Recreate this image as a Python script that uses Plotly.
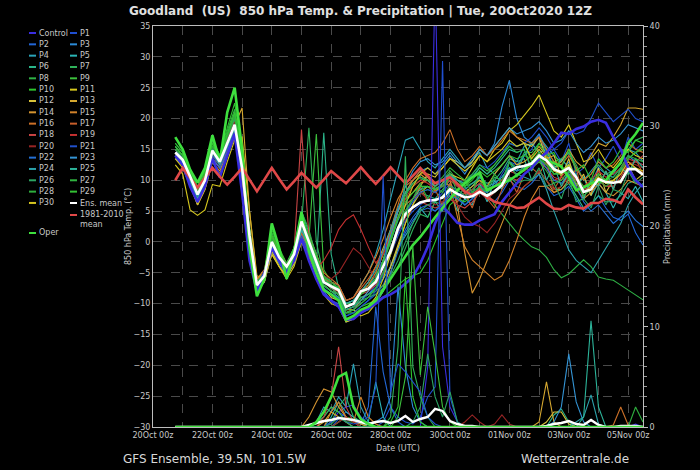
import plotly.graph_objects as go
import pandas as pd

# ---------------- time axis (6-hourly steps of the 20Oct2020 12Z run) ----------------
times = pd.date_range("2020-10-20 18:00", periods=64, freq="6h")
tick_dates = pd.date_range("2020-10-20 00:00", "2020-11-05 00:00", freq="1D")
tick_labels = ["20Oct 00z", "", "22Oct 00z", "", "24Oct 00z", "", "26Oct 00z", "", "28Oct 00z", "",
               "30Oct 00z", "", "01Nov 00z", "", "03Nov 00z", "", "05Nov 00z"]

# ---------------- 850 hPa temperature (°C) ----------------
control_t = [14, 12.5, 9, 6.5, 9, 13.5, 10.5, 14, 17.5, 8, -3, -8, -5, -1, -3, -5,
             -3, 0.5, -3, -6, -8.5, -9.5, -10.5, -12.6, -12.5, -11.5, -10.8, -10, -9, -8.5, -7.8, -6.8,
             -5.7, -3.5, -0.8, 3, 5.7, 4.5, 3.1, 2.8, 2.8, 3.5, 4, 4.5, 6.5, 8, 9.5, 11,
             12, 13.5, 14.5, 16, 17.7, 17.5, 18.3, 18.7, 19.5, 19.8, 19.3, 17, 15, 12, 10, 8.9]
p01_t = [14, 12.8, 10, 7, 9.5, 14, 12.5, 15.5, 18.5, 10.5, -0.5, -7.5, -6, -0.5, -3, -4.5,
         -2.5, 2.5, -1, -4, -7.5, -8.5, -9, -11.5, -11, -9.5, -8.5, -7, -5, -2, 1, 3.5,
         5, 6, 7, 6.5, 8, 9.5, 8, 7.5, 8.5, 9.5, 8, 9, 11, 13, 12.5, 14,
         15, 17.5, 14, 15, 13, 16, 11, 12, 14.5, 12, 13.5, 15.5, 13, 17, 15, 16]
p02_t = [13.5, 12.5, 9.5, 6, 9, 13.5, 12, 14.5, 17.5, 9.5, -1.5, -8, -6.5, -1.5, -3.5, -5,
         -3, 1.5, -1.5, -4.5, -8, -9.5, -10, -12, -11.5, -10.5, -9.5, -8.5, -7, -4, -1, 2,
         4, 5.5, 6, 5, 6.5, 8, 7.5, 6, 7, 8.5, 7, 6.5, 8, 10, 9, 8.5,
         9.5, 11, 9, 7.5, 8, 9, 7, 5, 6, 7.5, 5.5, 4, 3.5, 4.5, 1.5, -0.5]
p03_t = [14.5, 13, 10.5, 7.5, 10, 14.5, 13, 15.5, 18, 11, 0.5, -7, -5.5, 0, -2, -4,
         -1.5, 4, 1, -2.5, -6, -7, -8, -10, -9.5, -8, -7, -6, -3, 1, 5, 8,
         10, 11.5, 12, 11, 12.5, 14, 12.5, 11, 13, 15, 14, 16, 21.9, 26.2, 20, 17,
         16, 17.5, 15, 12, 11, 13, 10.5, 8, 9.5, 12, 11, 10.5, 12, 14, 13, 12.5]
p04_t = [15, 13.5, 11, 8, 10.5, 15, 13.5, 16.5, 19.5, 12.5, 1.5, -6.5, -5, 0.5, -2, -3.5,
         -1, 5, 1.5, -2, -5.5, -6.5, -7, -9.5, -9, -7, -5, -2, 2, 7, 12, 16.5,
         17, 15, 13, 12, 13.5, 15, 13.5, 12, 13, 14.5, 12, 11, 12.5, 14, 13, 15.5,
         16, 17, 15.5, 14, 13, 14.5, 12, 10, 11.5, 13, 12, 11, 13, 15, 14.5, 13]
p05_t = [14, 13, 10, 6.5, 9.5, 14, 12.5, 15, 18, 11, 0, -7.5, -6, -1, -3, -4.5,
         -2.5, 2, -0.5, -3.5, -7, -8, -8.5, -11, -10.5, -9, -8.5, -7.5, -6, -4, -1, 1,
         3, 5.5, 4, 6.5, 5, 8.5, 5, 7, 6, 9.5, 6.5, 10, 8.5, 13, 11.5, 14,
         16, 14.5, 15, 11.5, 13.5, 12, 9, 10.5, 7.5, 9.5, 8, 5.5, 8, 7, 9, 6.5]
p06_t = [15, 13.5, 10.5, 7.5, 10, 15, 13, 16.5, 19.5, 12, 1, -7, -5.5, 0, -2.5, -4,
         -2, 2.5, -0.5, -4, 17.7, -2, -7.5, -10, -9.5, -8, -7, -5.5, -3, 0, 3.5, 6,
         7, 8, 7.5, 7, 8.5, 10, 9, 8, 9, 10.5, 9.5, 10, 11.5, 13.5, 13, 13.5,
         10, 11.5, 10, 8.5, 8.5, 9.5, 7.5, 5.5, 6, 7.5, 6.5, 6.5, 7.5, 9.5, 10, 9]
p07_t = [15.5, 14, 11, 8, 10.5, 15.5, 13.5, 17, 20.5, 13, 1.5, -7, -5, 1, -2, -4,
         -1.5, 3, 18.5, 0, -5.5, -7, -8, -11, -10.5, -9, -8.5, -8, -7, -6, -4, -1,
         2, 4.5, 4, 6.5, 6, 9.5, 7, 9, 7.5, 11, 8, 10.5, 10, 13, 12, 14.5,
         14.5, 16, 15, 13, 13.5, 14.5, 12.5, 10, 11, 12.5, 11, 11.5, 13, 15, 16.5, 17]
p08_t = [14.5, 13.5, 10.5, 7.5, 10, 15, 13, 16.5, 20, 12.5, 1, -7, -5.5, 0.5, -2.5, -4,
         -2, 5, 2, -2.5, -6, -7, -7.5, -10, -9.5, -8, -7, -5, -2, 1.5, 5, 8,
         9, 10, 10.5, 9, 10, 11.5, 10, 9, 9.5, 10, 8, 6, 4.5, 3, 1.5, 0.3,
         -0.8, -1.3, -2.5, -4.5, -5.8, -5.2, -4, -2.9, -4, -5.7, -6, -6.2, -7, -7.8, -8.6, -9.4]
p09_t = [15, 13.5, 11, 8.5, 11, 16, 13.5, 17.5, 21, 13.5, 2, -6.5, -5, 1.5, -1.5, -3.5,
         -1, 4, 0.5, 17.5, -4.5, -6.5, -7.5, -10, -10, -8.5, -7.5, -6, -4, -1, 2.5, 5,
         6.5, 8, 8.5, 8, 9.5, 11, 10, 9, 10.5, 12, 11, 12.5, 14, 16, 15.5, 16,
         13, 14.5, 13, 11, 11.5, 12.5, 10.5, 8, 9, 11, 9.5, 10, 11.5, 13.5, 14.5, 15]
p10_t = [16, 14.5, 11.5, 9, 11.5, 16.5, 14, 18.5, 22.5, 14.5, 2.5, -7, -5, 2, -1, -3.5,
         -1, 4.5, 1, -2, -5.5, -7.5, -8.5, -11.5, -11.5, -10.5, -10, -9.5, -9, -8, -7, -6,
         -5.5, -5, -3, 0, 3, 6, 7, 6.5, 7.5, 9, 8, 9, 10, 12, 11.5, 12,
         13, 14, 12.5, 11, 11, 12.5, 10.5, 8, 8.5, 10.5, 9.5, 9.5, 10, 12, 12, 11]
p11_t = [12.5, 11, 5.2, 4.3, 5.2, 9.3, 9, 13, 16.5, 17, 5, -5.5, -6, -2, -4, -6,
         -4, 0, -2, -5, -7, -8, -8.5, -11, -11, -12, -11.5, -10, -8, -5, -1, 3,
         6, 8, 9, 8, 9.5, 11, 10.5, 10, 12, 14, 13, 15, 16, 18, 19, 20.5,
         22, 23.8, 21, 18, 17, 19, 16, 13, 13.5, 15, 13, 12, 13.5, 15, 14, 13.5]
p12_t = [14, 12.5, 9.5, 6.5, 9, 13.5, 12, 15, 18, 10, -0.5, -7.5, -6.5, -2, -4, -5.5,
         -3.5, 1, -1.5, -4, -7.5, -9, -9.5, -12.5, -12, -11, -10.5, -9.5, -7.5, -4, -0.5, 3,
         6, 9, 11, 10.5, 12, 13.5, 13, 12, 13, 15, 14, 15.5, 17, 18.5, 17, 16,
         15.5, 17, 13.5, 14, 10.5, 13.5, 9, 11, 7.5, 12, 8, 10, 9.5, 12.5, 10, 11]
p13_t = [14.5, 13, 10.5, 8, 10.5, 14.5, 13.5, 16, 19, 21.7, 5, -6, -5, 0.5, -2, -4,
         -2, 2, 0, -3, -6, -7, -8, -10.5, -10, -8, -6.5, -4, -1, 2, 5, 7,
         8, 9.5, 10, 9, 10, 11, 9.5, 8, 9, 10, 9, 11, 12.5, 14, 12.5, 13,
         14, 15.5, 14, 12, 13, 15, 13, 12, 14, 16, 15.5, 17, 19, 21.7, 21.7, 21.5]
p14_t = [14, 12.5, 9.5, 6, 8.5, 13, 11.5, 14.5, 17.5, 10, 0, -6, -5.5, -1, -3, -5,
         -3, 1, -1, -4, -6.5, -7.5, -8.5, -11.5, -11, -9.5, -8, -6, -3, 1, 5, 8,
         10, 11, 10, 8.5, 9, 10, 6, -1.8, -8.3, -6, -3, 0, 3, 6, 7.5, 9,
         10, 11.5, 10, 8, 8.5, 10, 8.5, 7, 8, 9.5, 8, 7.5, 8.5, 10, 9.5, 9]
p15_t = [15, 13.5, 11, 8.5, 11, 15.5, 14, 17, 20, 13, 2, -6, -4.5, 1, -1.5, -3.5,
         -1.5, 3.5, 1, -2, -5, -6, -7, -9.5, -9, -7, -5, -2.5, 0.5, 4, 7, 9,
         10, 11.5, 10.5, 9, 10, 9, 4, -0.8, -2.9, -4, -5, -6.2, -5.5, -3, 0.3, 4,
         7, 9, 9, 8, 9, 11, 9.5, 8, 9, 11, 10, 10, 11, 13, 12, 11.5]
p16_t = [14, 13, 10, 7, 9.5, 14, 12.5, 15.5, 18.5, 11.5, 0.5, -7.5, -6, -1, -3, -5,
         -3, 1.5, -1, -3.5, -6.5, -7.5, -8, -10.5, -10, -8.5, -7, -5, -2, 2, 6, 10,
         12, 13.5, 14, 14.5, 16, 18.2, 15, 13, 14, 15.5, 14, 15, 16.5, 18, 17, 16.5,
         16, 17, 15, 13, 12.5, 14, 12, 10, 11, 13, 12, 12.5, 14, 16, 15, 14.5]
p17_t = [14.5, 13, 10, 7, 10, 14.5, 12.5, 16, 19, 11.5, 0, -7, -5.5, 0, -2.5, -4,
         -2, 3, 0, -3, -6, -6.5, -7, -9.5, -9, -7.5, -6, -4, -1.5, 1.5, 4, 6,
         7, 9, 6.5, 8.5, 6, 9.5, 6.5, 8, 5.5, 9, 7, 5.5, 8.5, 10.5, 8, 11,
         12, 11, 13, 8.5, 10.5, 9.5, 12, 7, 10, 9, 11.5, 8.5, 12, 11, 13.5, 11]
p18_t = [14.5, 13.5, 10.5, 7.5, 10, 15, 13, 16, 19, 12, 1, -6.5, -5, 0.5, -2, -4,
         -1.5, 18.2, 1, -3, -6.5, -7.5, -8, -10.5, -10, -8.5, -8, -7, -5, -2, 1.5, 4,
         5.5, 6.5, 6, 5.5, 6, 7, 6, 5.5, 6.5, 8, 7, 8, 9, 10.5, 10, 11,
         12, 13, 12, 10.5, 10, 11.5, 10, 8.5, 9, 10, 9, 9, 10.5, 12.5, 13, 14]
p19_t = [14, 12.5, 9.5, 6.5, 9, 13.5, 12, 15, 18, 10.5, 0, -7, -6, -1, -3.5, -5,
         -3, 0.5, -2, -4.5, -3, -1, 2, 3.6, 4.4, 2, -0.8, -3.4, -2, 1, 4, 7,
         9, 10, 9.5, 8.5, 9, 10, 9, 8, 8.5, 9.5, 8.5, 9, 10, 11.5, 11, 11.5,
         12.5, 13.5, 12, 10, 10.5, 12, 10.5, 9, 10, 11.5, 10.5, 11, 12, 13.5, 13, 12.5]
p20_t = [15, 13.5, 10.5, 7.5, 10.5, 15, 13, 16.5, 19.5, 12, 1, -6.5, -5, 0, -2.5, -4,
         -2, 2.5, 0, -3, -5.5, -6, -5, -3, -1, -2, -4, -6, -5, -2, 2, 5,
         7, 8, 7, 6, 6.5, 7.5, 6, 4, 3, 2.5, 1.5, 3, 5, 7, 8, 9,
         10, 11.5, 10, 8.5, 9, 10.5, 9, 7.5, 8.5, 10, 9, 9.5, 11, 13, 12.5, 12]
p21_t = [14, 13, 10, 7, 9.5, 14, 12.5, 15, 18, 10.5, 0, -7.5, -6, -1, -3, -5,
         -3, 1, -1.5, -4.5, -7.5, -8.5, -9, -12, -11.5, -10.5, -9.5, -8, -5.5, -2, 1.5, 4.5,
         6.5, 8, 8.5, 8, 9, 10.5, 10, 9.5, 11, 12.5, 12, 13, 14.5, 16, 15.5, 16,
         17, 18.5, 17, 15, 16, 18, 17.5, 18, 20, 22.5, 21, 19.5, 20.5, 21.5, 20, 19.5]
p22_t = [13.5, 12.5, 9.5, 6.5, 9, 13.5, 12, 14.5, 17.5, 9.5, -1, -8, -6.5, -1.5, -3.5, -5.5,
         -3.5, 0.5, -2, -5, -8, -9.5, -10.5, -13, -12.5, -11.5, -11, -10, -8, -5, -1.5, 1.5,
         3.5, 5, 5.5, 5, 6, 7.5, 7, 6, 7, 8.5, 8, 9.5, 10.5, 12, 11.5, 12,
         12.5, 13.5, 12, 10, 9.5, 11, 9, 6.5, 5, 6, 4.5, 3, 4, 5, 3.5, 2.5]
p23_t = [14.5, 13, 10, 7, 10, 14.5, 13, 15.5, 18.5, 11, 0.5, -7, -6, -0.5, -2.5, -4.5,
         -2.5, 2, -0.5, -3.5, -7, -8, -8.5, -11, -10.5, -9.5, -8, -6, -3, 1, 5, 9,
         11.5, 13, 13.5, 12.5, 13, 14.5, 13, 12, 13.5, 15, 14, 15.5, 17, 18.5, 17.5, 18,
         18.5, 19.5, 18, 16, 16.5, 18, 16, 14.5, 15.5, 17, 16, 16.5, 17.5, 19, 18.5, 18]
p24_t = [15, 13.5, 10.5, 7.5, 10, 15, 13, 16, 19, 12.5, 1.5, -6.5, -5, 0.5, -2, -4,
         -1.5, 3.5, 0.5, -2.5, -6, -7, -7.5, -10, -9.5, -8, -6.5, -4.5, -1.5, 2, 5.5, 8,
         9.5, 10.5, 10, 9, 10, 11, 9.5, 8.5, 9.5, 10.5, 9, 9.5, 10.5, 12, 11, 10.5,
         10, 11, 8.5, 5, 2, -1.3, -3, -4, -5, -3, -1, 1, 3, 6, 8, 9.5]
p25_t = [14, 13, 10, 7, 9.5, 14.5, 12.5, 15.5, 18.5, 11, 0, -7.5, -6, -0.5, -3, -4.5,
         -2.5, 2, -1, -4, -7, -8, -9, -11.5, -11, -10, -9, -7.5, -5, -2, 2, 5,
         7, 8.5, 9, 8.5, 9.5, 11, 10, 9.5, 10.5, 12, 11, 12, 13.5, 15, 14.5, 15,
         11.5, 14, 10, 12.5, 9, 11.5, 11, 7, 10, 9, 11.5, 8.5, 12, 11, 13.5, 12]
p26_t = [15.5, 14, 11, 8, 10.5, 15.5, 13.5, 17, 20, 12.5, 1, -7, -5.5, 0.5, -2, -4,
         -2, 2.5, 0, -3, -6.5, -7.5, -8.5, -11, -10.5, -9.5, -9, -8.5, -7.5, -5.5, -3, 0,
         3, 5, 6, 6.5, 7.5, 9, 8.5, 7.5, 8, 9, 7.5, 8, 9, 10.5, 9.5, 10,
         10, 12, 9, 9.5, 7, 10.5, 6.5, 7, 5.5, 9, 6, 8.5, 8, 11.5, 9.5, 10.5]
p27_t = [16, 14.5, 11.5, 9, 11.5, 16.5, 14, 18, 21.5, 13.5, 2, -6.5, -5, 1.5, -1.5, -3.5,
         -1, 4, 1, -2, -5.5, -6.5, -7.5, -10.5, -10, -8.5, -7.5, -6, -3.5, 0, 4, 7.5,
         9.5, 10.5, 10, 9.5, 10.5, 12, 11, 10, 11, 12.5, 11.5, 12.5, 14, 15.5, 14.5, 15,
         12, 13, 11.5, 9.5, 10, 11.5, 9.5, 7.5, 8.5, 10, 9, 10, 11.5, 13.5, 14.5, 15.5]
p28_t = [15, 14, 11, 8, 10.5, 15.5, 13.5, 17, 20.5, 12.5, 1, -7.5, -5.5, 0.5, -2.5, -4.5,
         -2, 3, 0, -3.5, -7, -8, -8.5, -11.5, -11, -10, -9, -7.5, -5, -1.5, 2, 5,
         7, 9.5, 7, 9, 8, 11, 8, 10, 8, 11.5, 8.5, 11, 9.5, 13, 10.5, 12.5,
         12.5, 13.5, 12.5, 11, 11, 12, 10.5, 9, 9.5, 11, 10, 10.5, 12, 14, 13.5, 13]
p29_t = [15.5, 14, 11, 8.5, 11, 16, 13.5, 17.5, 21, 13, 1.5, -7, -5, 1, -2, -4,
         -1.5, 3.5, 0.5, -2.5, -6, -7, -7.5, -10.5, -10, -8.5, -7.5, -6, -3, 0.5, 4, 6.5,
         8, 9, 9, 8.5, 9, 10.5, 9.5, 9, 10, 11.5, 10.5, 11.5, 12.5, 14, 13.5, 14,
         13.5, 16, 14, 14.5, 12, 15, 11.5, 12.5, 10, 13.5, 12, 13, 15, 14.5, 16.5, 16]
p30_t = [13.5, 12, 9, 6, 8.5, 13, 11, 14, 17, 9.5, -1, -7.5, -6.5, -1.5, -4, -5.5,
         -3.5, 0, -2.5, -5.5, -8.5, -10, -10.5, -13, -12.5, -11.5, -10.5, -9, -6, -2, 2, 6,
         9, 11, 12, 11, 12, 13.5, 12.5, 11.5, 12.5, 14, 13, 14, 15, 16.5, 15.5, 16,
         13.5, 15, 13.5, 11.5, 11, 12.5, 10.5, 8, 9, 10.5, 9.5, 10, 11, 13, 12, 11.5]
oper_t = [17, 15, 11.7, 9.6, 12, 17.3, 13, 21, 25, 15, -1, -8.8, -6, 3, -1, -6,
          -1.5, 4.8, -1.5, -5, -7.8, -8.5, -9.5, -12.6, -12, -11, -10.5, -9.5, -7.8, -6, -4, -2.4,
          -0.5, 0.8, 2.5, 4, 5.5, 7, 8.4, 9.5, 10.5, 11.2, 8.4, 9, 9.5, 10, 10.8, 11.7,
          12.8, 13.8, 13.3, 12.8, 12.2, 10.5, 8.4, 8.8, 9.5, 9.8, 10, 11.5, 12.8, 16, 17.5, 19.3]
ens_mean_t = [14.5, 13.3, 10.6, 7.7, 10, 14.8, 13, 16, 19, 12, 1, -7, -5.5, 0, -2.5, -4,
              -2, 3.3, 0, -3, -6.5, -7.2, -7.8, -10.5, -10, -8, -7.6, -6.5, -4, -1.5, 2.2, 4.5,
              5.6, 6.4, 6.7, 6.8, 7.2, 8.5, 7.8, 7.2, 7.4, 8.1, 7.5, 8.2, 9.2, 11.5, 12.1, 12.3,
              12.7, 14, 13.2, 11.8, 11.3, 12, 10.5, 8.1, 8.5, 10.2, 9.7, 9.6, 9.8, 11.8, 11.8, 10.9]
clim_t = [10, 12, 10.4, 8.8, 10.4, 12, 10.6, 9.3, 10.6, 12, 10.1, 8.2, 10.1, 12, 10.2, 8.5,
          9.8, 11.2, 10, 8.8, 10.1, 11.5, 10.5, 9.5, 10.8, 12.1, 10.7, 9.4, 10.7, 12.1, 10.8, 9.5,
          10.7, 12, 10.7, 9.5, 10, 10.5, 9.4, 8.2, 7.6, 8.5, 7.3, 6.5, 6.2, 6, 5.5, 5.6,
          6.4, 7.2, 6.2, 5.4, 5.3, 6, 5.6, 5.4, 6.3, 6.3, 7, 6.8, 6.3, 8.5, 7.2, 6.1]

# ---------------- precipitation (mm per 6 h) ----------------
control_p = [0, 0, 0, 0, 0, 0, 0, 0, 0, 0, 0, 0, 0, 0, 0, 0,
             0, 0, 0, 0, 0, 0.5, 1.5, 2, 2.2, 1, 0.3, 0, 0, 0, 0, 0,
             0, 0, 6, 45, 8, 2, 0.5, 0, 0, 0, 0, 0, 0, 0, 0, 0,
             0, 0, 0, 0, 0, 0, 0, 0, 0, 0, 0, 0, 0, 0, 0.3, 0]
p01_p = [0, 0, 0, 0, 0, 0, 0, 0, 0, 0, 0, 0, 0, 0, 0, 0,
         0, 0, 0, 0, 0, 0, 0.8, 1.5, 1, 0.5, 0, 0, 0.5, 2, 1, 0.5,
         0.3, 1, 3, 4, 36.5, 3, 0.5, 0, 0, 0, 0, 0, 0, 0, 0, 0,
         0, 0, 0, 0, 0, 0, 0, 0, 0, 0, 0, 0, 0, 0, 0, 0]
p02_p = [0, 0, 0, 0, 0, 0, 0, 0, 0, 0, 0, 0, 0, 0, 0, 0,
         0, 0, 0, 0.5, 1, 2, 1.5, 1, 0.5, 0.3, 2, 12, 5.5, 2, 0.5, 0,
         0, 0, 0, 0, 0, 0, 0, 0, 0, 0, 0, 0, 0, 0, 0, 0,
         0, 0, 0, 0, 0, 0, 0, 0, 0, 0, 0, 0, 0, 0, 0, 0]
p03_p = [0, 0, 0, 0, 0, 0, 0, 0, 0, 0, 0, 0, 0, 0, 0, 0,
         0, 0, 0, 0, 0, 0, 0.5, 1, 0.5, 0, 0, 0.5, 1, 3, 14, 6,
         2, 0.5, 0, 0, 0, 0, 0, 0, 0, 0, 0, 0, 0, 0, 0, 0,
         0, 0, 0, 0, 0, 0, 0, 0, 0, 0, 0, 0, 0, 0, 0, 0]
p04_p = [0, 0, 0, 0, 0, 0, 0, 0, 0, 0, 0, 0, 0, 0, 0, 0,
         0, 0, 0, 0.5, 2, 1.5, 3, 2, 6.3, 2, 0.5, 0, 0, 0, 0, 0,
         0, 0, 0, 0, 0, 0, 0, 0, 0, 0, 0, 0, 0, 0, 0, 0,
         0, 0, 0, 0, 0, 0, 0, 0, 0, 0, 0, 0, 0, 0, 0, 0]
p05_p = [0, 0, 0, 0, 0, 0, 0, 0, 0, 0, 0, 0, 0, 0, 0, 0,
         0, 0, 0, 0, 0, 1, 2.5, 1.5, 1, 0.5, 0.5, 4.5, 1, 0, 0, 0,
         0, 0, 0, 0, 0, 0, 0, 0, 0, 0, 0, 0, 0, 0, 0, 0,
         0, 0, 0, 0, 0, 0, 0, 0, 0, 0, 0, 0, 0, 0, 0, 0]
p06_p = [0, 0, 0, 0, 0, 0, 0, 0, 0, 0, 0, 0, 0, 0, 0, 0,
         0, 0, 0, 0, 0, 0, 0, 0, 0, 0, 0, 0, 0, 0, 0, 0,
         0, 0, 0, 0, 0, 0, 0, 0, 0, 0, 0, 0, 0, 0, 0, 0,
         0, 0, 0, 1.2, 1.8, 0.5, 0, 0, 0, 0, 0, 0, 0, 0, 0, 0]
p07_p = [0, 0, 0, 0, 0, 0, 0, 0, 0, 0, 0, 0, 0, 0, 0, 0,
         0, 0, 0, 0, 0, 0.5, 2, 3, 1, 0.5, 0, 0, 0, 1, 8, 27,
         6, 3, 1, 0, 0, 0, 0, 0, 0, 0, 0, 0, 0, 0, 0, 0,
         0, 0, 0, 0, 0, 0, 0, 0, 0, 0, 0, 0, 0, 0, 0, 0]
p09_p = [0, 0, 0, 0, 0, 0, 0, 0, 0, 0, 0, 0, 0, 0, 0, 0,
         0, 0, 0, 0.3, 1, 2, 1.5, 0.5, 0.5, 0, 0, 0, 0, 0, 1, 5,
         18, 5.2, 12, 7.3, 2, 0.5, 0, 0, 0, 0, 0, 0, 0, 0, 0, 0,
         0, 0, 0, 0, 0, 0, 0, 0, 0, 0, 0, 0, 0, 0, 0, 0]
p10_p = [0, 0, 0, 0, 0, 0, 0, 0, 0, 0, 0, 0, 0, 0, 0, 0,
         0, 0, 0, 0, 0, 0, 0.5, 1, 0.8, 0.3, 0, 0, 0, 0.5, 2, 15,
         3, 0.5, 0, 0, 0, 0, 0, 0, 0, 0, 0, 0, 0, 0, 0, 0,
         0, 0, 0, 0, 0, 0, 0, 0, 0, 0, 0, 0, 0, 0, 0, 0]
p12_p = [0, 0, 0, 0, 0, 0, 0, 0, 0, 0, 0, 0, 0, 0, 0, 0,
         0, 0, 0, 0, 0, 0, 0, 0, 0, 0, 0, 0, 0, 0, 0, 0,
         0, 0, 0, 0, 0, 0, 0, 0, 0, 0, 0, 0, 0, 0, 0, 0,
         0, 0, 0.5, 1.5, 1.5, 0.3, 0, 0, 0, 0, 0, 0, 0, 0, 0, 0]
p13_p = [0, 0, 0, 0, 0, 0, 0, 0, 0, 0, 0, 0, 0, 0, 0, 0,
         0, 0, 0, 0, 0.5, 1.5, 1, 0.5, 0, 0, 0, 0, 0, 0, 0, 0,
         0, 0, 0, 0, 0, 0, 0, 0, 0, 0, 0, 0, 0, 0, 0, 0,
         0, 0.5, 4.5, 0.5, 0, 0, 0, 0, 0, 0, 0, 0, 0, 0, 0, 0]
p14_p = [0, 0, 0, 0, 0, 0, 0, 0, 0, 0, 0, 0, 0, 0, 0, 0,
         0, 0, 1, 2.5, 3.8, 3.5, 2, 1, 0.5, 0.3, 0, 0, 0, 0, 0, 0,
         0, 0, 0, 0, 0, 0, 0, 0, 0, 0, 0, 0, 0, 0, 0, 0,
         0, 0, 0, 0, 0, 0, 0, 0, 0, 0, 0, 0, 0, 0, 0, 0]
p15_p = [0, 0, 0, 0, 0, 0, 0, 0, 0, 0, 0, 0, 0, 0, 0, 0,
         0, 0, 0, 0, 0, 1.5, 2.5, 1, 0.5, 3, 1, 0.3, 0, 0, 0, 0,
         0, 0, 0, 0, 0, 0, 0, 0, 0, 0, 0, 0, 0, 0, 0, 0,
         0, 0, 0, 0, 0, 0, 0, 0, 0, 0, 0, 0, 0, 0, 0, 0]
p16_p = [0, 0, 0, 0, 0, 0, 0, 0, 0, 0, 0, 0, 0, 0, 0, 0,
         0, 0, 0, 0, 0, 0, 0, 0, 0, 0, 0, 0, 0, 0, 0, 0,
         0, 0, 0, 0, 0, 0, 0, 0, 0, 0, 0, 0, 0, 0, 0, 0,
         0, 0, 0, 0, 0, 0, 0, 0, 0, 0, 0, 0.2, 2, 0.2, 0, 0]
p18_p = [0, 0, 0, 0, 0, 0, 0, 0, 0, 0, 0, 0, 0, 0, 0, 0,
         0, 0, 0, 0, 1, 3, 8, 2, 0.5, 0, 0, 0, 0, 0, 0, 0,
         0, 0, 0, 0, 0, 0, 0, 0, 0, 0, 0, 0, 0, 0, 0, 0,
         0, 0, 0, 0, 0, 0, 0, 0, 0, 0, 0, 0, 0, 0, 0, 0]
p20_p = [0, 0, 0, 0, 0, 0, 0, 0, 0, 0, 0, 0, 0, 0, 0, 0,
         0, 0, 0, 0, 0, 0, 0.5, 1, 0.5, 0, 0, 0, 0, 0, 0, 0,
         0, 0, 0, 0, 0, 0, 0, 0.5, 1.2, 0.5, 0, 0.3, 1.2, 0.3, 0, 0,
         0, 0, 0, 0, 0, 0, 0, 0, 0, 0, 0, 0, 0, 0, 0, 0]
p21_p = [0, 0, 0, 0, 0, 0, 0, 0, 0, 0, 0, 0, 0, 0, 0, 0,
         0, 0, 0, 0, 0, 0.5, 1, 0.5, 0.3, 0.5, 1, 4, 25, 3.5, 6.3, 5.5,
         4.5, 3.5, 1, 0.3, 0, 0, 0, 0, 0, 0, 0, 0, 0, 0, 0, 0,
         0, 0, 0, 0, 0, 0, 0, 0, 0, 0, 0, 0, 0, 0, 0, 0]
p23_p = [0, 0, 0, 0, 0, 0, 0, 0, 0, 0, 0, 0, 0, 0, 0, 0,
         0, 0, 0, 0, 0, 0, 0, 0, 0, 0, 0, 0, 0, 0, 0, 0,
         0, 0, 0, 0, 0, 0, 0, 0, 0, 0, 0, 0, 0, 0, 0, 0,
         0, 0, 0, 0.5, 2, 7.3, 2.5, 0.5, 0, 0, 0, 0, 0, 0, 0, 0]
p24_p = [0, 0, 0, 0, 0, 0, 0, 0, 0, 0, 0, 0, 0, 0, 0, 0,
         0, 0, 0, 0, 0, 0, 0, 0, 0, 0, 0, 0, 0, 0, 0, 0,
         0, 0, 0, 0, 0, 0, 0, 0, 0, 0, 0, 0, 0, 0, 0, 0,
         0, 0, 0, 0, 0, 0, 0.5, 1, 3.2, 0.3, 0, 0, 0, 0, 0, 0]
p25_p = [0, 0, 0, 0, 0, 0, 0, 0, 0, 0, 0, 0, 0, 0, 0, 0,
         0, 0, 0, 0, 0, 0, 0, 0, 0, 0, 0, 0, 0, 0, 0, 0,
         0, 0, 0, 0, 0, 0, 0, 0, 0, 0, 0, 0, 0, 0, 0, 0,
         0, 0, 0, 0, 0, 0, 0, 1, 10.6, 2, 0, 0, 0, 0, 0, 0]
p26_p = [0, 0, 0, 0, 0, 0, 0, 0, 0, 0, 0, 0, 0, 0, 0, 0,
         0, 0, 0, 0, 0, 0.3, 1, 0.5, 0, 0, 0, 0, 0, 0, 0, 0,
         0.5, 2, 7.3, 3, 1, 3.5, 0.5, 0, 0, 0, 0, 0, 0, 0, 0, 0,
         0, 0, 0, 0, 0, 0, 0, 0, 0, 0, 0, 0, 0, 0, 0, 0]
p28_p = [0, 0, 0, 0, 0, 0, 0, 0, 0, 0, 0, 0, 0, 0, 0, 0,
         0, 0, 0, 0, 0, 0, 0, 0, 0, 0, 0, 0, 0, 0, 0, 0,
         0, 0, 0, 0, 0, 0, 0, 0, 0, 0, 0, 0, 0, 0, 0, 0,
         0, 0, 0, 0, 0, 0, 0, 0, 0, 0, 0, 0, 0, 0, 2, 0.5]
oper_p = [0, 0, 0, 0, 0, 0, 0, 0, 0, 0, 0, 0, 0, 0, 0, 0,
          0, 0, 0, 0.5, 1.5, 3, 5, 5.4, 2, 0.8, 0.3, 0, 0, 0, 0, 0,
          0, 0, 0, 0, 0, 0, 0, 0, 0, 0, 0, 0, 0, 0, 0, 0,
          0, 0, 0, 0, 0, 0, 0, 0, 0, 0, 0, 0, 0, 0, 0, 0]
ens_mean_p = [0, 0, 0, 0, 0, 0, 0, 0, 0, 0, 0, 0, 0, 0, 0, 0,
              0, 0, 0.2, 0.4, 0.6, 0.7, 0.9, 0.8, 0.7, 0.5, 0.3, 0.5, 0.6, 0.4, 0.6, 1.1,
              0.5, 0.8, 1.0, 1.8, 1.6, 0.6, 0.3, 0.1, 0.1, 0, 0, 0, 0, 0, 0, 0,
              0, 0, 0.1, 0.3, 0.4, 0.6, 0.3, 0.2, 0.7, 0.2, 0, 0, 0.1, 0.1, 0.1, 0]

# ---------------- styles ----------------
member_names = ["Control"] + ["P%d" % k for k in range(1, 31)]
member_colors = ["#3a2ee0", "#1f4fd0", "#2266d6", "#2b8ad6", "#2aa3b8", "#2ab5b5", "#2bb58a",
                 "#2fb25a", "#2fb045", "#3cc03c", "#2ec42e", "#d6c81e", "#d8c23a", "#d6a830",
                 "#d49430", "#d2822a", "#cc7028", "#c85e2a", "#c84444", "#c43030", "#962424",
                 "#2050cc", "#2470d4", "#3494d4", "#2ca2aa", "#2cb49a", "#2ca462", "#30b440",
                 "#2eae3e", "#34c234", "#d4c420"]
member_temps = [control_t, p01_t, p02_t, p03_t, p04_t, p05_t, p06_t, p07_t, p08_t, p09_t, p10_t,
                p11_t, p12_t, p13_t, p14_t, p15_t, p16_t, p17_t, p18_t, p19_t, p20_t,
                p21_t, p22_t, p23_t, p24_t, p25_t, p26_t, p27_t, p28_t, p29_t, p30_t]
member_precip = {"Control": control_p, "P1": p01_p, "P2": p02_p, "P3": p03_p, "P4": p04_p,
                 "P5": p05_p, "P6": p06_p, "P7": p07_p, "P9": p09_p, "P10": p10_p,
                 "P12": p12_p, "P13": p13_p, "P14": p14_p, "P15": p15_p, "P16": p16_p,
                 "P18": p18_p, "P20": p20_p, "P21": p21_p, "P23": p23_p, "P24": p24_p,
                 "P25": p25_p, "P26": p26_p, "P28": p28_p}
color_of = dict(zip(member_names, member_colors))
OPER_COLOR = "#3ee03e"
MEAN_COLOR = "#ffffff"
CLIM_COLOR = "#e04848"
TXT = "#c8c8c8"
FONT = "DejaVu Sans"

fig = go.Figure()

for name, vals in zip(member_names[1:], member_temps[1:]):
    fig.add_trace(go.Scatter(x=times, y=vals, mode="lines", yaxis="y",
                             line=dict(color=color_of[name], width=1.1),
                             showlegend=False, hoverinfo="skip"))
for name, vals in member_precip.items():
    fig.add_trace(go.Scatter(x=times, y=vals, mode="lines", yaxis="y2",
                             line=dict(color=color_of[name], width=1.1),
                             showlegend=False, hoverinfo="skip"))
fig.add_trace(go.Scatter(x=times, y=control_t, mode="lines", yaxis="y",
                         line=dict(color=color_of["Control"], width=2.6),
                         showlegend=False, hoverinfo="skip"))
fig.add_trace(go.Scatter(x=times, y=oper_t, mode="lines", yaxis="y",
                         line=dict(color=OPER_COLOR, width=2.6),
                         showlegend=False, hoverinfo="skip"))
fig.add_trace(go.Scatter(x=times, y=clim_t, mode="lines", yaxis="y",
                         line=dict(color=CLIM_COLOR, width=2.6),
                         showlegend=False, hoverinfo="skip"))
fig.add_trace(go.Scatter(x=times, y=ens_mean_t, mode="lines", yaxis="y",
                         line=dict(color=MEAN_COLOR, width=2.6),
                         showlegend=False, hoverinfo="skip"))
fig.add_trace(go.Scatter(x=times, y=ens_mean_p, mode="lines", yaxis="y2",
                         line=dict(color=MEAN_COLOR, width=2.4),
                         showlegend=False, hoverinfo="skip"))
fig.add_trace(go.Scatter(x=times, y=oper_p, mode="lines", yaxis="y2",
                         line=dict(color=OPER_COLOR, width=2.6),
                         showlegend=False, hoverinfo="skip"))

# ---------------- geometry helpers (pixel -> paper) ----------------
L, R, T, B, W, H = 153, 643, 26, 427, 700, 470
def px(x):
    return (x - L) / (R - L)
def py(y):
    return (B - y) / (B - T)

annotations = []
shapes = []

left_col = ["Control"] + ["P%d" % k for k in range(2, 31, 2)]
right_col = ["P%d" % k for k in range(1, 30, 2)]
for k, name in enumerate(left_col):
    yy = 33 + 11.33 * k
    shapes.append(dict(type="line", xref="paper", yref="paper", x0=px(29), x1=px(36),
                       y0=py(yy), y1=py(yy), line=dict(color=color_of[name], width=2)))
    annotations.append(dict(text=name, xref="paper", yref="paper", x=px(37), y=py(yy),
                            xanchor="left", yanchor="middle", showarrow=False,
                            font=dict(family=FONT, size=8, color=TXT)))
for k, name in enumerate(right_col):
    yy = 33 + 11.33 * k
    shapes.append(dict(type="line", xref="paper", yref="paper", x0=px(70), x1=px(77),
                       y0=py(yy), y1=py(yy), line=dict(color=color_of[name], width=2)))
    annotations.append(dict(text=name, xref="paper", yref="paper", x=px(78), y=py(yy),
                            xanchor="left", yanchor="middle", showarrow=False,
                            font=dict(family=FONT, size=8, color=TXT)))
extra = [("Ens. mean", 70, 78, 203, MEAN_COLOR), ("1981-2010", 70, 78, 215, CLIM_COLOR),
         ("Oper", 29, 37, 233, OPER_COLOR)]
for text, lx, tx, yy, col in extra:
    shapes.append(dict(type="line", xref="paper", yref="paper", x0=px(lx), x1=px(lx + 7),
                       y0=py(yy), y1=py(yy), line=dict(color=col, width=2)))
    annotations.append(dict(text=text, xref="paper", yref="paper", x=px(tx), y=py(yy),
                            xanchor="left", yanchor="middle", showarrow=False,
                            font=dict(family=FONT, size=8, color=TXT)))
annotations.append(dict(text="mean", xref="paper", yref="paper", x=px(78), y=py(225),
                        xanchor="left", yanchor="middle", showarrow=False,
                        font=dict(family=FONT, size=8, color=TXT)))

annotations += [
    dict(text="<b>Goodland\u00a0 (US)\u00a0 850 hPa Temp. & Precipitation | Tue, 20Oct2020 12Z</b>",
         xref="paper", yref="paper", x=px(360), y=py(11), xanchor="center", yanchor="middle",
         showarrow=False, font=dict(family=FONT, size=12, color="#e0e0e0")),
    dict(text="850 hPa Temp. (°C)", xref="paper", yref="paper", x=px(128), y=py(227),
         textangle=-90, xanchor="center", yanchor="middle", showarrow=False,
         font=dict(family=FONT, size=8, color=TXT)),
    dict(text="Precipitation (mm)", xref="paper", yref="paper", x=px(667), y=py(227),
         textangle=-90, xanchor="center", yanchor="middle", showarrow=False,
         font=dict(family=FONT, size=8, color=TXT)),
    dict(text="Date (UTC)", xref="paper", yref="paper", x=px(398), y=py(448),
         xanchor="center", yanchor="middle", showarrow=False,
         font=dict(family=FONT, size=8, color=TXT)),
    dict(text="GFS Ensemble, 39.5N, 101.5W", xref="paper", yref="paper", x=px(121), y=py(459),
         xanchor="left", yanchor="middle", showarrow=False,
         font=dict(family=FONT, size=12, color="#d8d8d8")),
    dict(text="Wetterzentrale.de", xref="paper", yref="paper", x=px(631), y=py(459),
         xanchor="right", yanchor="middle", showarrow=False,
         font=dict(family=FONT, size=12, color="#d8d8d8")),
]

fig.update_layout(
    width=W, height=H,
    margin=dict(l=L, r=W - R, t=T, b=H - B, pad=0),
    paper_bgcolor="#000000", plot_bgcolor="#000000",
    showlegend=False, hovermode=False,
    font=dict(family=FONT, size=8, color=TXT),
    annotations=annotations, shapes=shapes,
    xaxis=dict(type="date", range=["2020-10-20 00:00", "2020-11-05 12:00"],
               tickmode="array", tickvals=list(tick_dates), ticktext=tick_labels,
               showgrid=True, gridcolor="#4a4a4a", griddash="dash", gridwidth=0.6,
               showline=True, linecolor="#bdbdbd", linewidth=1, mirror=True,
               ticks="", zeroline=False,
               tickfont=dict(family=FONT, size=8, color=TXT)),
    yaxis=dict(range=[-30, 35], tickmode="linear", tick0=-30, dtick=5,
               showgrid=True, gridcolor="#4a4a4a", griddash="dash", gridwidth=0.6,
               showline=True, linecolor="#bdbdbd", linewidth=1, zeroline=False,
               ticks="", tickfont=dict(family=FONT, size=8, color=TXT)),
    yaxis2=dict(range=[0, 40], overlaying="y", side="right", tickmode="array",
                tickvals=[0, 10, 20, 30, 40], showgrid=False, zeroline=False,
                showline=True, linecolor="#bdbdbd", linewidth=1,
                ticks="outside", ticklen=4, tickcolor="#bdbdbd",
                minor=dict(dtick=1, ticks="outside", ticklen=3, tickcolor="#9a9a9a"),
                tickfont=dict(family=FONT, size=8, color=TXT)),
)

fig.write_html("out.html")
